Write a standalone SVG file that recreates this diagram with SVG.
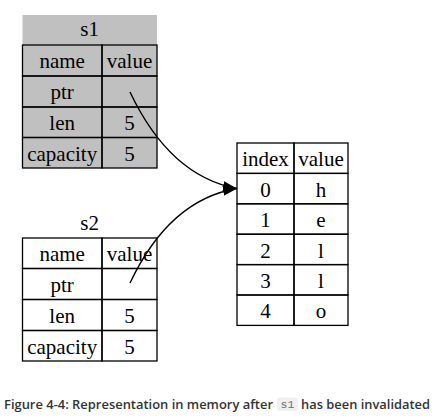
<svg xmlns="http://www.w3.org/2000/svg" width="437" height="419" viewBox="0 0 437 419">
<style>
.cell{stroke:#000;stroke-width:1.3;fill:none}
.grey{fill:#c0c0c0}
.t{font-family:"Liberation Serif","Times New Roman","DejaVu Serif",serif;font-size:21px;fill:#000;text-anchor:middle}
.edge{fill:none;stroke:#000;stroke-width:1.4}
.cap{font-family:"Open Sans","Noto Sans",sans-serif;font-size:13.2px;font-weight:600;fill:#333}
.code{font-family:"Liberation Mono","DejaVu Sans Mono",monospace;font-size:11.5px;fill:#6e6e6e;text-anchor:middle}
</style>
<defs>
<marker id="arr" viewBox="0 0 10 7" refX="10" refY="3.5" markerUnits="userSpaceOnUse" markerWidth="14" markerHeight="10" orient="auto">
<path d="M0,0 L10,3.5 L0,7 Z" fill="#000"/>
</marker>
</defs>
<rect x="0" y="0" width="437" height="419" fill="#fff"/>
<g id="s1">
<rect class="grey" x="22.5" y="15" width="134.5" height="153"/>
<rect class="cell" x="22.5" y="45" width="79.5" height="31"/>
<rect class="cell" x="102" y="45" width="55" height="31"/>
<rect class="cell" x="22.5" y="76" width="79.5" height="31"/>
<rect class="cell" x="102" y="76" width="55" height="31"/>
<rect class="cell" x="22.5" y="107" width="79.5" height="30.5"/>
<rect class="cell" x="102" y="107" width="55" height="30.5"/>
<rect class="cell" x="22.5" y="137.5" width="79.5" height="30.5"/>
<rect class="cell" x="102" y="137.5" width="55" height="30.5"/>
<text class="t" x="89.7" y="36">s1</text>
<text class="t" x="62.2" y="68">name</text>
<text class="t" x="129.5" y="68">value</text>
<text class="t" x="62.2" y="99">ptr</text>
<text class="t" x="62.2" y="130">len</text>
<text class="t" x="129.5" y="130">5</text>
<text class="t" x="62.2" y="160.5">capacity</text>
<text class="t" x="129.5" y="160.5">5</text>
</g>
<g id="s2">
<rect class="cell" x="22.5" y="238" width="79.5" height="30.5"/>
<rect class="cell" x="102" y="238" width="55" height="30.5"/>
<rect class="cell" x="22.5" y="268.5" width="79.5" height="31"/>
<rect class="cell" x="102" y="268.5" width="55" height="31"/>
<rect class="cell" x="22.5" y="299.5" width="79.5" height="31"/>
<rect class="cell" x="102" y="299.5" width="55" height="31"/>
<rect class="cell" x="22.5" y="330.5" width="79.5" height="30.5"/>
<rect class="cell" x="102" y="330.5" width="55" height="30.5"/>
<text class="t" x="89.7" y="230">s2</text>
<text class="t" x="62.2" y="261">name</text>
<text class="t" x="129.5" y="261">value</text>
<text class="t" x="62.2" y="292">ptr</text>
<text class="t" x="62.2" y="323">len</text>
<text class="t" x="129.5" y="323">5</text>
<text class="t" x="62.2" y="353.5">capacity</text>
<text class="t" x="129.5" y="353.5">5</text>
</g>
<g id="heap">
<rect class="cell" x="237" y="143" width="57" height="30.4"/>
<rect class="cell" x="294" y="143" width="54" height="30.4"/>
<rect class="cell" x="237" y="173.4" width="57" height="30.4"/>
<rect class="cell" x="294" y="173.4" width="54" height="30.4"/>
<rect class="cell" x="237" y="203.8" width="57" height="30.4"/>
<rect class="cell" x="294" y="203.8" width="54" height="30.4"/>
<rect class="cell" x="237" y="234.2" width="57" height="30.4"/>
<rect class="cell" x="294" y="234.2" width="54" height="30.4"/>
<rect class="cell" x="237" y="264.6" width="57" height="30.4"/>
<rect class="cell" x="294" y="264.6" width="54" height="30.4"/>
<rect class="cell" x="237" y="295" width="57" height="30.4"/>
<rect class="cell" x="294" y="295" width="54" height="30.4"/>
<text class="t" x="265.5" y="166">index</text>
<text class="t" x="321" y="166">value</text>
<text class="t" x="265.5" y="196.5">0</text>
<text class="t" x="321" y="196.5">h</text>
<text class="t" x="265.5" y="227">1</text>
<text class="t" x="321" y="227">e</text>
<text class="t" x="265.5" y="257.5">2</text>
<text class="t" x="321" y="257.5">l</text>
<text class="t" x="265.5" y="288">3</text>
<text class="t" x="321" y="288">l</text>
<text class="t" x="265.5" y="318">4</text>
<text class="t" x="321" y="318">o</text>
</g>
<g id="connectors">
<path class="edge" d="M130,92 C148,130 180,178 237,188.5" marker-end="url(#arr)"/>
<path class="edge" d="M130,283 C148,245 180,198 237,188.5" marker-end="url(#arr)"/>
</g>
<g id="caption">
<rect x="277" y="397.5" width="21" height="13.5" rx="3" fill="#f0f0f0"/>
<text class="cap" x="4" y="408.5" textLength="269" lengthAdjust="spacingAndGlyphs">Figure 4-4: Representation in memory after</text>
<text class="code" x="287.5" y="408">s1</text>
<text class="cap" x="301" y="408.5" textLength="129" lengthAdjust="spacingAndGlyphs">has been invalidated</text>
</g>
</svg>
